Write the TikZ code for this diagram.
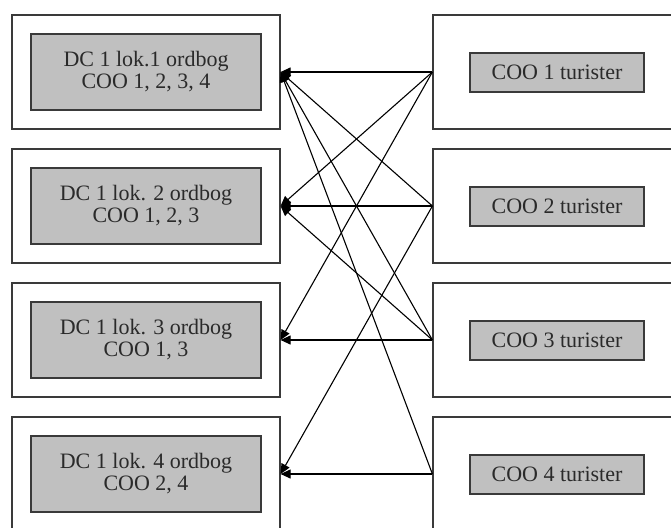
\documentclass[tikz,border=0pt]{standalone}
\usepackage{fontspec}
\setmainfont{Liberation Serif}
\usetikzlibrary{arrows.meta}
\definecolor{boxline}{HTML}{3A3A3A}
\definecolor{boxfill}{HTML}{C0C0C0}
\definecolor{ink}{HTML}{2A2A2A}
\begin{document}
\begin{tikzpicture}[x=1pt,y=-1pt,
  frame/.style={draw=boxline, line width=1.2pt, fill=white, inner sep=0pt},
  leftframe/.style={frame, minimum width=268pt, minimum height=114pt},
  rightframe/.style={frame, minimum width=260pt, minimum height=114pt},
  label/.style={draw=boxline, line width=1.2pt, fill=boxfill, inner sep=0pt,
    text=ink, align=center, font=\fontsize{22}{22}\selectfont},
  dcbox/.style={label, minimum width=230pt, minimum height=76pt},
  coobox/.style={label, minimum width=174pt, minimum height=39pt},
  link/.style={draw=black, line width=1.1pt, -{Triangle[length=10pt,width=9pt]}}]
  \useasboundingbox (0,0) rectangle (671,527);
  \clip (0,0) rectangle (671,527);

  % dictionary frames (left column)
  \node[leftframe] (L1) at (146,72)  {};
  \node[leftframe] (L2) at (146,206) {};
  \node[leftframe] (L3) at (146,340) {};
  \node[leftframe] (L4) at (146,474) {};
  \node[dcbox] (D1) at (146,72)  {DC 1 lok.1 ordbog\\COO 1, 2, 3, 4};
  \node[dcbox] (D2) at (146,206) {DC 1 lok. 2 ordbog\\COO 1, 2, 3};
  \node[dcbox] (D3) at (146,340) {DC 1 lok. 3 ordbog\\COO 1, 3};
  \node[dcbox] (D4) at (146,474) {DC 1 lok. 4 ordbog\\COO 2, 4};

  % tourist frames (right column)
  \node[rightframe] (R1) at (563,72)  {};
  \node[rightframe] (R2) at (563,206) {};
  \node[rightframe] (R3) at (563,340) {};
  \node[rightframe] (R4) at (563,474) {};
  \node[coobox] (C1) at (557,72.5)  {COO 1 turister};
  \node[coobox] (C2) at (557,206.5) {COO 2 turister};
  \node[coobox] (C3) at (557,340.5) {COO 3 turister};
  \node[coobox] (C4) at (557,474.5) {COO 4 turister};

  % which tourist groups feed which dictionary
  \draw[link] (R1.west) -- (L1.east);
  \draw[link] (R1.west) -- (L2.east);
  \draw[link] (R1.west) -- (L3.east);
  \draw[link] (R2.west) -- (L1.east);
  \draw[link] (R2.west) -- (L2.east);
  \draw[link] (R2.west) -- (L4.east);
  \draw[link] (R3.west) -- (L1.east);
  \draw[link] (R3.west) -- (L2.east);
  \draw[link] (R3.west) -- (L3.east);
  \draw[link] (R4.west) -- (L1.east);
  \draw[link] (R4.west) -- (L4.east);
\end{tikzpicture}
\end{document}
